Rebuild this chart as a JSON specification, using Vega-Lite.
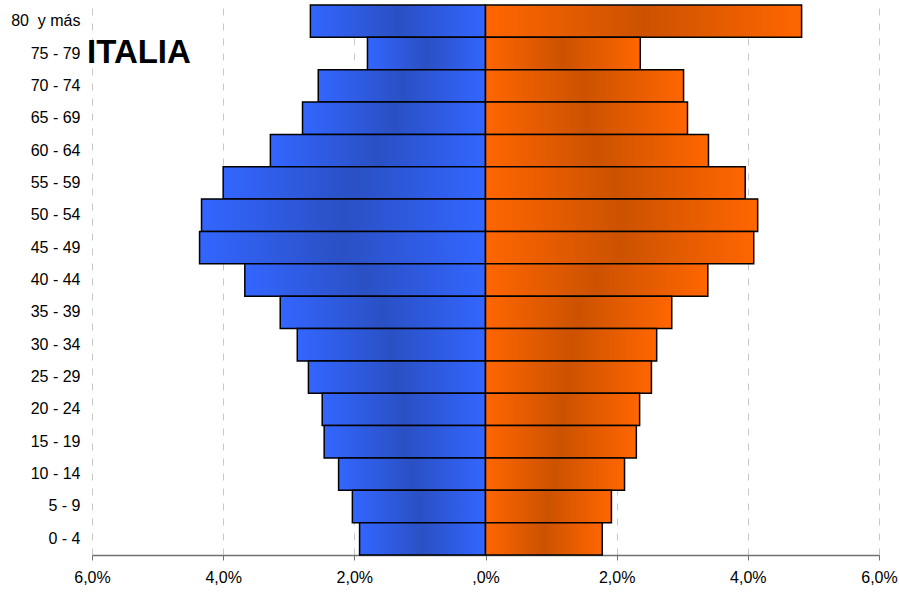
{
  "$schema": "https://vega.github.io/schema/vega-lite/v6.json",
  "width": 787,
  "height": 550,
  "autosize": "none",
  "padding": {"left": 92, "top": 5, "right": 20, "bottom": 37},
  "background": "white",
  "config": {"view": {"stroke": null}, "font": "Liberation Sans"},
  "data": {
    "values": [
      {"age": "80\u00a0 y más", "sex": "Hombres", "pct": -2.67},
      {"age": "75 - 79", "sex": "Hombres", "pct": -1.80},
      {"age": "70 - 74", "sex": "Hombres", "pct": -2.55},
      {"age": "65 - 69", "sex": "Hombres", "pct": -2.79},
      {"age": "60 - 64", "sex": "Hombres", "pct": -3.28},
      {"age": "55 - 59", "sex": "Hombres", "pct": -4.00},
      {"age": "50 - 54", "sex": "Hombres", "pct": -4.33},
      {"age": "45 - 49", "sex": "Hombres", "pct": -4.36},
      {"age": "40 - 44", "sex": "Hombres", "pct": -3.67},
      {"age": "35 - 39", "sex": "Hombres", "pct": -3.13},
      {"age": "30 - 34", "sex": "Hombres", "pct": -2.87},
      {"age": "25 - 29", "sex": "Hombres", "pct": -2.70},
      {"age": "20 - 24", "sex": "Hombres", "pct": -2.49},
      {"age": "15 - 19", "sex": "Hombres", "pct": -2.46},
      {"age": "10 - 14", "sex": "Hombres", "pct": -2.24},
      {"age": "5 - 9", "sex": "Hombres", "pct": -2.03},
      {"age": "0 - 4", "sex": "Hombres", "pct": -1.92},
      {"age": "80\u00a0 y más", "sex": "Mujeres", "pct": 4.82},
      {"age": "75 - 79", "sex": "Mujeres", "pct": 2.36},
      {"age": "70 - 74", "sex": "Mujeres", "pct": 3.02},
      {"age": "65 - 69", "sex": "Mujeres", "pct": 3.08},
      {"age": "60 - 64", "sex": "Mujeres", "pct": 3.40},
      {"age": "55 - 59", "sex": "Mujeres", "pct": 3.96},
      {"age": "50 - 54", "sex": "Mujeres", "pct": 4.15},
      {"age": "45 - 49", "sex": "Mujeres", "pct": 4.09},
      {"age": "40 - 44", "sex": "Mujeres", "pct": 3.39},
      {"age": "35 - 39", "sex": "Mujeres", "pct": 2.84},
      {"age": "30 - 34", "sex": "Mujeres", "pct": 2.61},
      {"age": "25 - 29", "sex": "Mujeres", "pct": 2.53},
      {"age": "20 - 24", "sex": "Mujeres", "pct": 2.35},
      {"age": "15 - 19", "sex": "Mujeres", "pct": 2.30},
      {"age": "10 - 14", "sex": "Mujeres", "pct": 2.12},
      {"age": "5 - 9", "sex": "Mujeres", "pct": 1.92},
      {"age": "0 - 4", "sex": "Mujeres", "pct": 1.78}
    ]
  },
  "encoding": {
    "y": {
      "field": "age",
      "type": "nominal",
      "sort": ["80\u00a0 y más", "75 - 79", "70 - 74", "65 - 69", "60 - 64", "55 - 59", "50 - 54", "45 - 49", "40 - 44", "35 - 39", "30 - 34", "25 - 29", "20 - 24", "15 - 19", "10 - 14", "5 - 9", "0 - 4"],
      "scale": {"paddingInner": 0, "paddingOuter": 0},
      "axis": {"title": null, "domain": false, "ticks": false, "grid": false, "labelPadding": 12, "labelFontSize": 16, "labelColor": "black"}
    },
    "x": {
      "field": "pct",
      "type": "quantitative",
      "scale": {"domain": [-6, 6], "nice": false, "zero": false},
      "axis": {
        "title": null,
        "values": [-6, -4, -2, 0, 2, 4, 6],
        "labelExpr": "datum.value == 0 ? ',0%' : replace(format(abs(datum.value), '.1f'), '.', ',') + '%'",
        "labelFontSize": 16,
        "labelColor": "black",
        "labelFlush": false,
        "labelOverlap": false,
        "labelPadding": 9,
        "tickSize": 5,
        "tickColor": "#707070",
        "domainColor": "#707070",
        "domainWidth": 1.5,
        "grid": true,
        "gridColor": "#c8c8c8",
        "gridDash": [7, 8],
        "gridWidth": 1
      }
    }
  },
  "layer": [
    {
      "transform": [{"filter": "datum.sex == 'Hombres'"}],
      "mark": {
        "type": "bar",
        "stroke": "black",
        "strokeWidth": 1.5,
        "fill": {
          "gradient": "linear",
          "x1": 0, "y1": 0, "x2": 1, "y2": 0,
          "stops": [
            {"offset": 0, "color": "#3366ff"},
            {"offset": 0.5, "color": "#2a50c4"},
            {"offset": 1, "color": "#3366ff"}
          ]
        }
      }
    },
    {
      "transform": [{"filter": "datum.sex == 'Mujeres'"}],
      "mark": {
        "type": "bar",
        "stroke": "black",
        "strokeWidth": 1.5,
        "fill": {
          "gradient": "linear",
          "x1": 0, "y1": 0, "x2": 1, "y2": 0,
          "stops": [
            {"offset": 0, "color": "#ff6600"},
            {"offset": 0.5, "color": "#cc5200"},
            {"offset": 1, "color": "#ff6600"}
          ]
        }
      }
    },
    {
      "data": {"values": [{"label": "ITALIA", "age": "75 - 79", "pct": -6}]},
      "mark": {"type": "text", "align": "left", "baseline": "alphabetic", "dx": -5, "dy": 9, "fontSize": 33, "fontWeight": "bold", "color": "black"},
      "encoding": {"text": {"field": "label"}}
    }
  ]
}
